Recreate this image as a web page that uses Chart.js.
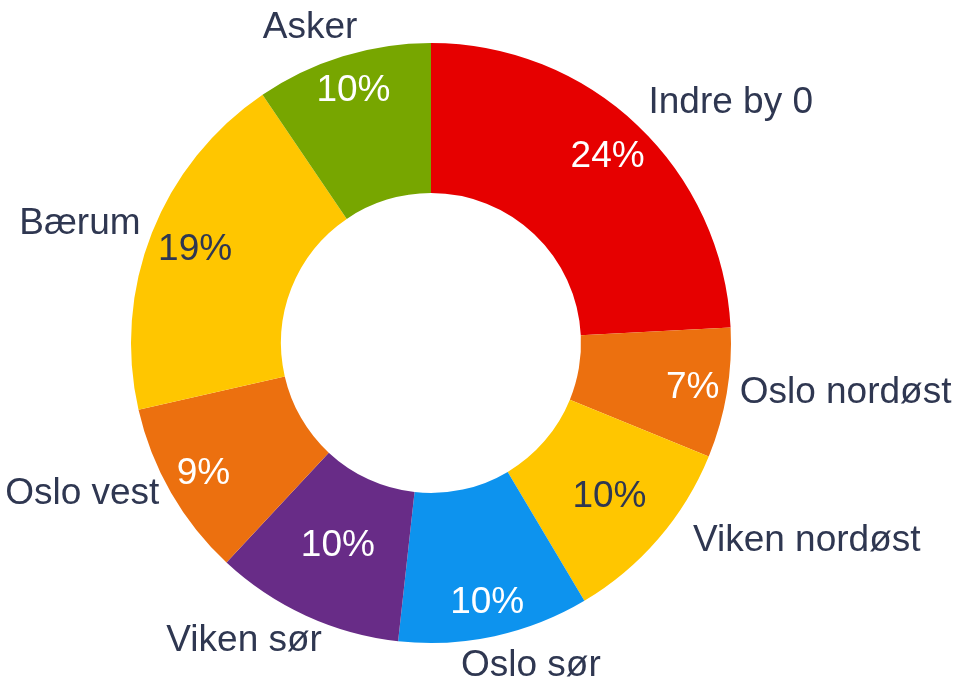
<!DOCTYPE html>
<html lang="no">
  <head>
    <meta charset="utf-8" />
    <title>Fordeling per område</title>
    <style>
      * {
        margin: 0;
        padding: 0;
      }
      body {
        background: #ffffff;
      }
      .chartBox {
        width: 959px;
        height: 679px;
      }
    </style>
  </head>
  <body>
    <div class="chartBox">
      <canvas id="myChart"></canvas>
    </div>
    <script src="https://cdn.jsdelivr.net/npm/chart.js"></script>
    <script>
      // data
      const labels = ['Indre by 0', 'Oslo nordøst', 'Viken nordøst', 'Oslo sør', 'Viken sør', 'Oslo vest', 'Bærum', 'Asker'];
      const values = [24.2, 7.0, 10.3, 10.3, 10.2, 9.5, 19.1, 9.5];
      const percentLabels = ['24%', '7%', '10%', '10%', '10%', '9%', '19%', '10%'];

      const colors = ['#e60000', '#ec700f', '#ffc600', '#0d93ee', '#682c87', '#ec700f', '#ffc600', '#77a600'];
      const percentColors = ['#ffffff', '#ffffff', '#2f3751', '#ffffff', '#ffffff', '#ffffff', '#2f3751', '#ffffff'];
      const textColor = '#2f3751';
      const font = '37px "Liberation Sans", Arial, sans-serif';

      // where the percent sits between inner and outer edge (0..1)
      const percentDepth = [0.71, 0.77, 0.57, 0.77, 0.49, 0.75, 0.69, 0.76];
      // small hand nudges for the names outside the ring
      const nameNudge = [[4, 2], [3, -6], [27, -21], [12, 3], [-9, -1], [-3, -17], [-2, 4], [-9, -2]];

      // draws the percent inside each slice and the name outside it
      const sliceLabels = {
        id: 'sliceLabels',
        afterDatasetsDraw(chart) {
          const ctx = chart.ctx;
          const meta = chart.getDatasetMeta(0);
          ctx.save();
          ctx.font = font;
          ctx.textAlign = 'center';
          ctx.textBaseline = 'middle';
          meta.data.forEach((arc, i) => {
            const p = arc.getProps(['x', 'y', 'startAngle', 'endAngle', 'innerRadius', 'outerRadius'], true);
            const mid = (p.startAngle + p.endAngle) / 2;
            const cos = Math.cos(mid);
            const sin = Math.sin(mid);

            // percent
            const rIn = p.innerRadius + (p.outerRadius - p.innerRadius) * percentDepth[i];
            ctx.fillStyle = percentColors[i];
            ctx.fillText(percentLabels[i], p.x + cos * rIn, p.y + sin * rIn);

            // name
            const rOut = p.outerRadius + 10;
            const ax = p.x + cos * rOut;
            const ay = p.y + sin * rOut;
            const w = ctx.measureText(labels[i]).width;
            const h = 34;
            const kx = Math.max(-1, Math.min(1, cos * 1.5));
            const ky = Math.max(-1, Math.min(1, sin * 1.5));
            ctx.fillStyle = textColor;
            ctx.fillText(labels[i], ax + (w / 2) * kx + nameNudge[i][0], ay + (h / 2) * ky + nameNudge[i][1]);
          });
          ctx.restore();
        },
      };

      const config = {
        type: 'doughnut',
        data: {
          labels,
          datasets: [
            {
              data: values,
              backgroundColor: colors,
              borderWidth: 0,
            },
          ],
        },
        options: {
          responsive: true,
          maintainAspectRatio: false,
          animation: false,
          cutout: '50%',
          layout: {
            padding: { left: 131, right: 228, top: 43, bottom: 36 },
          },
          plugins: {
            legend: { display: false },
            tooltip: { enabled: false },
          },
        },
        plugins: [sliceLabels],
      };

      const myChart = new Chart(document.getElementById('myChart'), config);
    </script>
  </body>
</html>
